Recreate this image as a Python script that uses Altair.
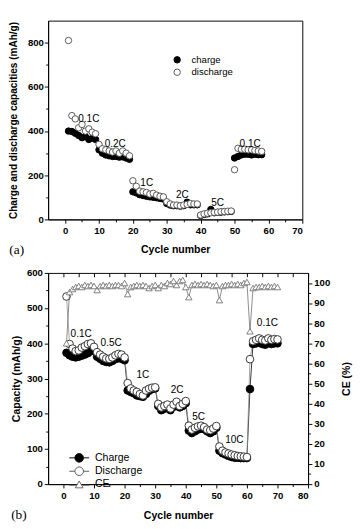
import altair as alt
import pandas as pd

FONT = "Liberation Sans"

# ---------------- panel (a) data ----------------
a_cycles = list(range(1, 59))
a_charge = [400, 398, 390, 380, 370, 375, 362, 368, 362,
            315, 300, 292, 288, 285, 285, 282, 283, 278, 272,
            125, 120, 112, 108, 105, 102, 100, 98, 95, 92,
            72, 65, 62, 62, 60, 62, 78, 66, 66, 66,
            18, 22, 25, 45, 30, 32, 33, 34, 35, 36,
            278, 285, 292, 295, 295, 292, 295, 293, 293]
a_discharge = [810, 470, 455, 415, 430, 400, 410, 395, 388,
               340, 320, 315, 310, 305, 310, 300, 310, 300, 288,
               175, 150, 128, 125, 122, 115, 118, 110, 105, 102,
               80, 70, 65, 65, 62, 65, 68, 72, 70, 70,
               20, 25, 28, 30, 32, 33, 35, 36, 37, 38,
               225, 322, 318, 318, 315, 315, 312, 310, 308]
a_series = ["charge", "discharge"]
a_rate_labels = ["0.1C", "0.2C", "1C", "2C", "5C", "0.1C"]
a_rate_x = [7.0, 14.8, 24.1, 34.6, 45.0, 54.6]
a_rate_y = [454, 342, 164, 108, 73, 342]

# ---------------- panel (b) data ----------------
b_cycles = list(range(1, 71))
b_charge = [373, 366, 362, 360, 362, 365, 368, 372, 378, 378,
            362, 356, 350, 347, 346, 350, 355, 358, 356, 352,
            266, 262, 258, 252, 250, 248, 256, 265, 270, 272,
            222, 210, 214, 220, 210, 220, 232, 218, 222, 230,
            152, 145, 150, 155, 158, 156, 150, 145, 150, 160,
            95, 88, 84, 80, 77, 75, 75, 74, 74, 74,
            270, 398, 400, 402, 398, 396, 402, 398, 400, 400]
b_discharge = [533, 398, 385, 378, 380, 388, 392, 398, 400, 390,
               375, 368, 362, 357, 356, 360, 366, 370, 368, 360,
               287, 272, 266, 262, 256, 252, 266, 271, 274, 275,
               228, 218, 222, 226, 215, 226, 234, 222, 228, 236,
               166, 155, 160, 164, 166, 162, 155, 153, 158, 165,
               107, 95, 90, 87, 84, 82, 80, 79, 78, 77,
               355, 406, 410, 414, 410, 408, 414, 410, 412, 411]
b_ce = [70, 95.5, 97, 98, 98.5, 98, 99, 98.5, 99, 98.5,
        96.5, 98.5, 99, 98.5, 99, 98.5, 99, 99, 98.5, 100,
        94.5, 98, 98.5, 99, 98.5, 99, 98.5, 97.5, 98.5, 99,
        97.5, 99, 98.5, 100, 99.5, 101, 99, 101, 101.5, 98,
        93, 99, 99.5, 99, 99.5, 99, 99.5, 99, 98.5, 99,
        91.5, 98.5, 99, 99, 99.5, 99, 99.5, 99, 100, 100.5,
        76, 97.5, 98, 98, 98.5, 98, 98.5, 98, 98.5, 98]
b_series = ["Charge", "Discharge", "CE"]
b_rate_labels = ["0.1C", "0.5C", "1C", "2C", "5C", "10C", "0.1C"]
b_rate_x = [5.8, 15.6, 26.0, 37.2, 44.2, 55.9, 66.7]
b_rate_y = [426, 400, 309, 266, 191, 125, 456]

# ---------------- tables ----------------
df_a = pd.DataFrame({
    "cycle": a_cycles + a_cycles,
    "value": a_charge + a_discharge,
    "series": [a_series[0]] * len(a_cycles) + [a_series[1]] * len(a_cycles),
})
df_a_lab = pd.DataFrame({"cycle": a_rate_x, "value": a_rate_y, "label": a_rate_labels})

df_b = pd.DataFrame({
    "cycle": b_cycles + b_cycles,
    "value": b_charge + b_discharge,
    "series": [b_series[0]] * len(b_cycles) + [b_series[1]] * len(b_cycles),
})
df_ce = pd.DataFrame({"cycle": b_cycles, "ce": b_ce, "series": b_series[2]})
df_b_lab = pd.DataFrame({"cycle": b_rate_x, "value": b_rate_y, "label": b_rate_labels})
df_leg = pd.DataFrame({"series": b_series, "cycle": [0, 0, 0], "value": [0, 0, 0]})


def cond_tick(step, big, small):
    return {"condition": {"test": f"datum.value % {step} === 0", "value": big}, "value": small}


def lab_expr(step):
    return f"datum.value % {step} === 0 ? datum.label : ''"


# ---------------- panel (a) ----------------
xa = alt.X("cycle:Q",
           scale=alt.Scale(domain=[-5, 70], nice=False, zero=False),
           axis=alt.Axis(orient="bottom", title="Cycle number",
                         values=list(range(0, 71, 5)), labelExpr=lab_expr(10),
                         tickSize=cond_tick(10, 4, 2.5), labelPadding=3, titlePadding=9))
ya = alt.Y("value:Q",
           scale=alt.Scale(domain=[0, 900], nice=False, zero=False),
           axis=alt.Axis(orient="left", title="Charge and discharge capacities (mAh/g)",
                         values=list(range(0, 801, 100)), labelExpr=lab_expr(200),
                         tickSize=cond_tick(200, 4, 2.5), labelPadding=1,
                         titlePadding=9, titleFontSize=10.5))

leg_a = alt.Legend(title=None, orient="none", legendX=130, legendY=36,
                   labelFont=FONT, labelFontSize=10, labelColor="black",
                   symbolSize=45, symbolStrokeWidth=1, labelOffset=10,
                   rowPadding=1, padding=0)

pts_a = alt.Chart(df_a).mark_point(shape="circle", size=45, strokeWidth=1, opacity=1).encode(
    x=xa, y=ya,
    fill=alt.Fill("series:N", scale=alt.Scale(domain=a_series, range=["black", "white"]), legend=leg_a),
    stroke=alt.Stroke("series:N", scale=alt.Scale(domain=a_series, range=["black", "#555555"]), legend=leg_a),
)
txt_a = alt.Chart(df_a_lab).mark_text(font=FONT, fontSize=10.5, color="black").encode(
    x=xa, y=ya, text="label:N")

panel_a = alt.layer(pts_a, txt_a).properties(
    width=266, height=208,
    title=alt.TitleParams("(a)", orient="bottom", anchor="start", frame="bounds",
                          font="Liberation Serif", fontSize=14, fontWeight="normal",
                          color="black", offset=0, dy=-12),
)

# ---------------- panel (b) ----------------
xb = alt.X("cycle:Q", scale=alt.Scale(domain=[-5, 80], nice=False, zero=False),
           axis=alt.Axis(orient="bottom", title="Cycle number",
                         values=list(range(0, 81, 5)), labelExpr=lab_expr(10),
                         tickSize=cond_tick(10, 4, 2.5), labelPadding=3, titlePadding=10))
xb_top = alt.X("cycle:Q", scale=alt.Scale(domain=[-5, 80], nice=False, zero=False),
               axis=alt.Axis(orient="top", title=None, labels=False, domain=False,
                             values=list(range(0, 81, 5)), tickSize=4, offset=-4))
yb = alt.Y("value:Q", scale=alt.Scale(domain=[0, 600], nice=False, zero=False),
           axis=alt.Axis(orient="left", title="Capacity (mAh/g)",
                         values=list(range(0, 601, 50)), labelExpr=lab_expr(100),
                         tickSize=cond_tick(100, 4, 2.5), labelPadding=2, titlePadding=5))
yce = alt.Y("ce:Q", scale=alt.Scale(domain=[0, 105], nice=False, zero=False),
            axis=alt.Axis(orient="right", title="CE (%)", titleAngle=270, titleBaseline="top",
                          values=list(range(0, 101, 5)), labelExpr=lab_expr(10),
                          tickSize=cond_tick(10, 4, 2.5), labelPadding=2, titlePadding=12))

line_ch = alt.Chart(df_b).transform_filter(alt.datum.series == b_series[0]).mark_line(
    color="black", strokeWidth=0.8).encode(x=xb, y=yb)
line_dis = alt.Chart(df_b).transform_filter(alt.datum.series == b_series[1]).mark_line(
    color="#8c8c8c", strokeWidth=0.8).encode(x=xb, y=yb)
pts_ch = alt.Chart(df_b).transform_filter(alt.datum.series == b_series[0]).mark_point(
    shape="circle", size=64, filled=True, fill="black", stroke="black", strokeWidth=1, opacity=1
).encode(x=xb, y=yb)
pts_dis = alt.Chart(df_b).transform_filter(alt.datum.series == b_series[1]).mark_point(
    shape="circle", size=64, filled=True, fill="white", stroke="#333333", strokeWidth=1, opacity=1
).encode(x=xb, y=yb)
txt_b = alt.Chart(df_b_lab).mark_text(font=FONT, fontSize=10.5, color="black").encode(
    x=xb, y=yb, text="label:N")

CIRC = "M-2.3,0L-1,0M1,0L2.3,0M-1,0A1,1,0,1,1,1,0A1,1,0,1,1,-1,0Z"
TRI = "M-2.3,0.15L-0.8,0.15M0.8,0.15L2.3,0.15M0,-0.85L0.9,0.75L-0.9,0.75Z"
leg_b = alt.Legend(title=None, orient="none", legendX=27, legendY=188,
                   labelFont=FONT, labelFontSize=11, labelColor="black",
                   symbolSize=81, symbolStrokeWidth=1, labelOffset=11,
                   rowPadding=1, padding=0)
legend_layer = alt.Chart(df_leg).transform_filter("false").mark_point(
    size=81, strokeWidth=1, opacity=1, filled=True).encode(
    x=xb, y=yb,
    shape=alt.Shape("series:N", scale=alt.Scale(domain=b_series, range=[CIRC, CIRC, TRI]), legend=leg_b),
    fill=alt.Fill("series:N", scale=alt.Scale(domain=b_series, range=["black", "white", "white"]), legend=leg_b),
    stroke=alt.Stroke("series:N", scale=alt.Scale(domain=b_series, range=["black", "#555555", "#666666"]), legend=leg_b),
)

cap_group = alt.layer(line_ch, line_dis, pts_ch, pts_dis, txt_b, legend_layer)

line_ce = alt.Chart(df_ce).mark_line(color="#555555", strokeWidth=0.7).encode(x=xb_top, y=yce)
pts_ce = alt.Chart(df_ce).mark_point(shape="triangle-up", size=45, filled=True, fill="white",
                                      stroke="#707070", strokeWidth=0.9, opacity=1).encode(
    x=xb_top, y=yce)
ce_group = alt.layer(line_ce, pts_ce)

panel_b = alt.layer(cap_group, ce_group).resolve_scale(x="independent", y="independent").properties(
    width=272, height=221,
    title=alt.TitleParams("(b)", orient="bottom", anchor="start", frame="bounds",
                          font="Liberation Serif", fontSize=14, fontWeight="normal",
                          color="black", offset=0, dy=-12),
)

chart = alt.concat(panel_a, panel_b, columns=1, spacing=10, align="none").resolve_scale(
    fill="independent", stroke="independent", shape="independent"
).resolve_legend(
    fill="independent", stroke="independent", shape="independent"
).properties(
    padding=0, background="white"
).configure_axis(
    labelFont=FONT, labelFontWeight="bold", labelFontSize=10, labelColor="black",
    titleFont=FONT, titleFontWeight="bold", titleFontSize=11, titleColor="black",
    domainColor="black", tickColor="black", domainWidth=1, tickWidth=1, grid=False,
).configure_view(stroke="black", strokeWidth=1)

chart.save("out.html", embed_options={"renderer": "svg", "actions": False})
